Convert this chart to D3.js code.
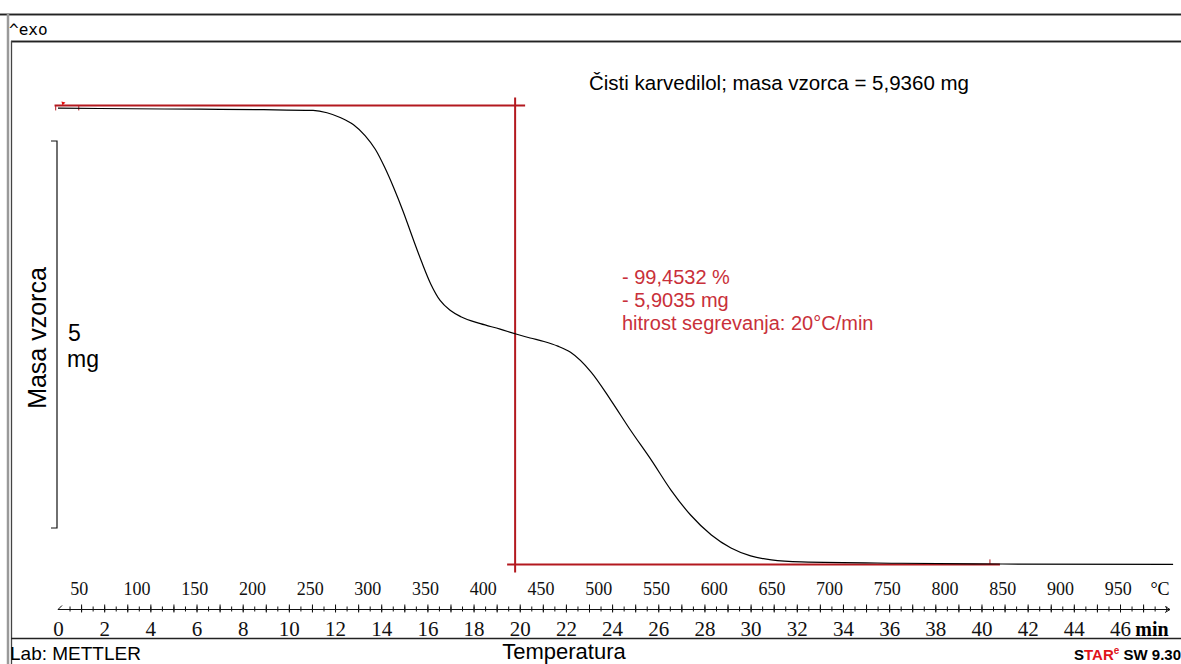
<!DOCTYPE html>
<html>
<head>
  <meta charset="utf-8"/>
  <style>
    body { margin: 0; background: #fff; }
    svg { display: block; background: #fff; }
    .sans { font-family: 'Liberation Sans', Arial, sans-serif; }
    .serif { font-family: 'Liberation Serif', 'Times New Roman', serif; }
  </style>
</head>
<body>
  <div id="tga"></div>
  <script src="https://d3js.org/d3.v7.min.js"></script>
  <script>
    // TGA curve: temperature (°C) vs sample mass (mg)
    let tempC = [32, 68, 155, 210, 253, 265, 277, 288, 298, 307, 315, 323, 331, 339, 347, 355,
                 363, 372, 381, 398, 415, 428, 441, 453, 465, 476, 494, 511, 528, 546, 563,
                 580, 598, 615, 632, 650, 676, 763, 850, 998];
    let massMg = [5.936, 5.930, 5.921, 5.915, 5.905, 5.875, 5.810, 5.720, 5.580, 5.400, 5.170,
                  4.900, 4.600, 4.270, 3.950, 3.660, 3.450, 3.320, 3.240, 3.150, 3.080, 3.020,
                  2.965, 2.920, 2.860, 2.780, 2.521, 2.160, 1.773, 1.387, 1.000, 0.678, 0.420,
                  0.252, 0.150, 0.098, 0.072, 0.055, 0.045, 0.040];

    let tempTicks = [50, 100, 150, 200, 250, 300, 350, 400, 450, 500, 550, 600, 650, 700, 750, 800, 850, 900, 950];
    let timeTicks = [0, 2, 4, 6, 8, 10, 12, 14, 16, 18, 20, 22, 24, 26, 28, 30, 32, 34, 36, 38, 40, 42, 44, 46];

    // step evaluation (red construction lines)
    let stepTemp = 428;
    let stepTopMass = 5.97;
    let stepBottomMass = 0.04;
    let stepLeftTemp = 29, stepRightTemp = 848;

    let startTemp = 32, heatingRate = 20;   // °C, °C/min

    let width = 1181, height = 664;

    let svg = d3.select('#tga')
        .append('svg')
        .attr('width', width)
        .attr('height', height);

    let xMin = d3.scaleLinear().domain([0, 46]).range([58, 1120]);
    let x = d3.scaleLinear()
        .domain([startTemp, startTemp + heatingRate * 46])
        .range([58, 1120]);
    let y = d3.scaleLinear().domain([0, 5]).range([567.5, 567.5 - 5 * 77.4]);

    // window frame
    svg.append('line').attr('x1', 0).attr('x2', width).attr('y1', 14.5).attr('y2', 14.5)
        .attr('stroke', '#9a9a9a').attr('stroke-width', 3);
    svg.append('line').attr('x1', 0).attr('x2', width).attr('y1', 14.5).attr('y2', 14.5)
        .attr('stroke', '#222').attr('stroke-width', 1.2);
    svg.append('line').attr('x1', 11).attr('x2', width).attr('y1', 41.5).attr('y2', 41.5)
        .attr('stroke', '#9a9a9a').attr('stroke-width', 3);
    svg.append('line').attr('x1', 11).attr('x2', width).attr('y1', 41.5).attr('y2', 41.5)
        .attr('stroke', '#222').attr('stroke-width', 1.2);
    svg.append('line').attr('x1', 8).attr('x2', 8).attr('y1', 14).attr('y2', height)
        .attr('stroke', '#9a9a9a').attr('stroke-width', 2.5);
    svg.append('line').attr('x1', 11.5).attr('x2', 11.5).attr('y1', 41).attr('y2', height)
        .attr('stroke', '#444').attr('stroke-width', 1.3);
    svg.append('line').attr('x1', 11).attr('x2', width).attr('y1', 638.5).attr('y2', 638.5)
        .attr('stroke', '#222').attr('stroke-width', 1.3);

    svg.append('text').attr('x', 9).attr('y', 35)
        .style('font-family', "'DejaVu Sans Mono', monospace").style('font-size', '16px')
        .text('^exo');

    // red step construction
    let red = '#b3191f';
    svg.append('line')
        .attr('x1', x(stepLeftTemp)).attr('x2', x(stepTemp) + 10)
        .attr('y1', y(stepTopMass)).attr('y2', y(stepTopMass))
        .attr('stroke', red).attr('stroke-width', 2);
    svg.append('line')
        .attr('x1', x(stepTemp)).attr('x2', x(stepTemp))
        .attr('y1', y(stepTopMass) - 8).attr('y2', y(stepBottomMass) + 8)
        .attr('stroke', red).attr('stroke-width', 2);
    svg.append('line')
        .attr('x1', x(stepTemp) - 8).attr('x2', x(stepRightTemp))
        .attr('y1', y(stepBottomMass)).attr('y2', y(stepBottomMass))
        .attr('stroke', red).attr('stroke-width', 2);
    // evaluation limit markers
    svg.append('path')
        .attr('d', `M${x(35)},${y(stepTopMass) - 4} l4,1 l-3,3 z`)
        .attr('fill', '#e01010');
    [stepLeftTemp + 1, 50].forEach(t => {
      svg.append('line')
          .attr('x1', x(t)).attr('x2', x(t))
          .attr('y1', y(stepTopMass)).attr('y2', y(stepTopMass) + 5)
          .attr('stroke', red).attr('stroke-width', 1);
    });
    svg.append('line')
        .attr('x1', x(stepRightTemp) - 10).attr('x2', x(stepRightTemp) - 10)
        .attr('y1', y(stepBottomMass) - 5).attr('y2', y(stepBottomMass))
        .attr('stroke', red).attr('stroke-width', 1);

    // TGA curve
    let line = d3.line()
        .x((d, i) => x(tempC[i]))
        .y(d => y(d))
        .curve(d3.curveMonotoneX);
    svg.append('path')
        .datum(massMg)
        .attr('d', line)
        .attr('fill', 'none')
        .attr('stroke', '#000')
        .attr('stroke-width', 1.2);

    // 5 mg scale bar
    let barTop = 141;
    let barLen = y(0) - y(5);
    svg.append('path')
        .attr('d', `M51,${barTop} H57 V${barTop + barLen} H51`)
        .attr('fill', 'none').attr('stroke', '#111').attr('stroke-width', 1.2);
    svg.append('text').attr('class', 'sans')
        .attr('x', 68).attr('y', 341).style('font-size', '23px').text('5');
    svg.append('text').attr('class', 'sans')
        .attr('x', 67).attr('y', 367).style('font-size', '23px').text('mg');
    svg.append('text').attr('class', 'sans')
        .attr('transform', 'translate(46,338) rotate(-90)')
        .attr('text-anchor', 'middle')
        .style('font-size', '25px')
        .text('Masa vzorca');

    // annotations
    svg.append('text').attr('class', 'sans')
        .attr('x', 589).attr('y', 90).style('font-size', '20.5px')
        .text('Čisti karvedilol; masa vzorca = 5,9360 mg');
    let notes = ['- 99,4532 %', '- 5,9035 mg', 'hitrost segrevanja: 20°C/min'];
    svg.append('g').selectAll('text')
        .data(notes)
        .join('text')
        .attr('class', 'sans')
        .attr('x', 622)
        .attr('y', (d, i) => 284 + i * 23)
        .style('font-size', '20px')
        .attr('fill', '#c9303a')
        .text(d => d);

    // bottom axes: temperature labels, tick line, time labels
    let axisY = 609.5;
    svg.append('g')
        .attr('class', 'serif')
        .attr('transform', 'translate(0,595)')
        .call(d3.axisBottom(x).tickValues(tempTicks).tickSize(0).tickFormat(d3.format('d')))
        .call(g => g.select('.domain').remove())
        .call(g => g.selectAll('text').attr('y', 0).attr('dy', 0)
            .style('font-size', '18px').style('font-family', "'Liberation Serif', serif").attr('fill', '#111'));
    svg.append('text').attr('class', 'serif')
        .attr('x', 1160).attr('y', 595).attr('text-anchor', 'middle')
        .style('font-size', '18px').text('°C');

    svg.append('line').attr('x1', 58).attr('x2', 1170)
        .attr('y1', axisY).attr('y2', axisY).attr('stroke', '#111').attr('stroke-width', 1);
    svg.append('path').attr('d', `M58,${axisY} l4,-4 M1165,${axisY - 3} l5,3 l-5,3`)
        .attr('fill', 'none').attr('stroke', '#111').attr('stroke-width', 1);
    svg.append('g')
        .attr('transform', `translate(0,${axisY - 3})`)
        .call(d3.axisBottom(xMin).tickValues(d3.range(0.5, 48.5, 0.5)).tickSize(5))
        .call(g => g.selectAll('text').remove())
        .call(g => g.select('.domain').remove())
        .call(g => g.selectAll('line').attr('stroke', '#111'));
    svg.append('g')
        .attr('transform', `translate(0,${axisY - 5})`)
        .call(d3.axisBottom(xMin).tickValues(d3.range(1, 48, 1)).tickSize(8))
        .call(g => g.selectAll('text').remove())
        .call(g => g.select('.domain').remove())
        .call(g => g.selectAll('line').attr('stroke', '#111'));

    svg.append('g')
        .attr('transform', 'translate(0,636)')
        .call(d3.axisBottom(xMin).tickValues(timeTicks).tickSize(0))
        .call(g => g.select('.domain').remove())
        .call(g => g.selectAll('text').attr('y', 0).attr('dy', 0)
            .style('font-size', '21px').style('font-family', "'Liberation Serif', serif").attr('fill', '#111'));
    svg.append('text').attr('class', 'serif')
        .attr('x', 1152).attr('y', 636).attr('text-anchor', 'middle')
        .style('font-size', '20px').style('font-weight', 'bold').text('min');

    // footer
    svg.append('text').attr('class', 'sans')
        .attr('x', 10).attr('y', 660).style('font-size', '19px').text('Lab: METTLER');
    svg.append('text').attr('class', 'sans')
        .attr('x', 564).attr('y', 659).attr('text-anchor', 'middle')
        .style('font-size', '22px').text('Temperatura');
    let star = svg.append('text').attr('class', 'sans')
        .attr('x', 1181).attr('y', 660).attr('text-anchor', 'end')
        .style('font-size', '15px').style('font-weight', 'bold');
    star.append('tspan').text('S');
    star.append('tspan').attr('fill', '#e0151b').text('TAR');
    star.append('tspan').attr('fill', '#e0151b').attr('dy', -6).style('font-size', '10px').text('e');
    star.append('tspan').attr('dy', 6).text(' SW 9.30');
  </script>
</body>
</html>
